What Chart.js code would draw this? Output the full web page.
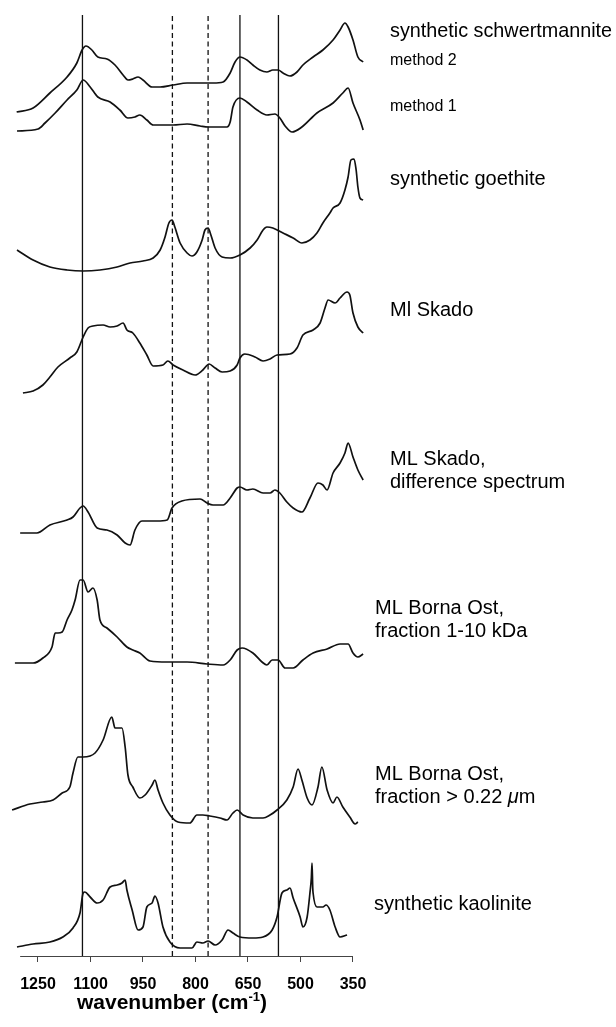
<!DOCTYPE html>
<html>
<head>
<meta charset="utf-8">
<script src="https://cdn.jsdelivr.net/npm/chart.js@4.4.0/dist/chart.umd.min.js"></script>
<style>
html, body { margin: 0; padding: 0; background: #fff; }
#wrap { width: 616px; height: 1027px; }
</style>
</head>
<body>
<div id="wrap"><canvas id="myChart" width="616" height="1027"></canvas></div>
<script>
// [wavenumber cm-1, relative absorbance], top to bottom
var schwertM2 = [[1311,3],[1264,7],[1216,22],[1167,38],[1139,52],[1124,65],[1113,69],[1096,65],[1079,58],[1053,56],[1030,50],[1007,40],[993,35],[979,36],[964,38],[950,35],[924,28],[901,28],[864,30],[824,32],[787,32],[750,32],[721,33],[701,42],[687,53],[673,58],[653,55],[636,50],[616,45],[596,43],[579,45],[564,45],[550,42],[530,39],[510,43],[493,50],[464,58],[436,65],[407,75],[387,85],[373,92],[364,88],[350,75],[336,58],[321,53]];
var schwertM1 = [[1310,4],[1250,6],[1230,12],[1201,22],[1167,35],[1139,45],[1121,55],[1101,48],[1079,38],[1044,33],[1016,25],[993,17],[973,18],[959,20],[939,15],[921,10],[864,10],[824,11],[787,9],[764,8],[710,8],[701,13],[693,28],[673,37],[653,33],[624,25],[596,20],[573,21],[559,17],[544,9],[524,3],[496,8],[453,22],[407,32],[379,42],[364,47],[350,32],[330,15],[321,5]];
var goethite = [[1310,25],[1264,15],[1216,8],[1167,5],[1121,4],[1073,5],[1024,8],[987,12],[950,14],[921,17],[901,25],[887,38],[876,52],[867,55],[859,48],[844,32],[824,22],[810,19],[796,23],[781,35],[773,45],[764,47],[756,40],[744,27],[724,18],[701,17],[673,20],[644,27],[624,35],[607,45],[596,48],[579,47],[550,42],[521,37],[496,32],[473,35],[453,42],[436,52],[416,62],[407,67],[387,72],[373,85],[364,98],[356,115],[347,116],[341,105],[336,88],[330,77],[321,75]];
var mlSkado = [[1293,2],[1264,4],[1236,10],[1216,18],[1193,28],[1159,37],[1139,43],[1121,58],[1107,67],[1093,69],[1064,70],[1044,68],[1024,69],[1007,72],[996,65],[979,62],[959,52],[939,40],[921,29],[893,30],[879,34],[864,30],[836,25],[801,20],[779,25],[761,31],[744,27],[724,23],[701,24],[681,30],[673,37],[659,41],[630,38],[607,34],[587,36],[567,40],[530,41],[510,47],[493,60],[464,65],[444,72],[430,87],[421,95],[401,92],[387,97],[367,103],[359,100],[350,82],[336,68],[321,62]];
var mlSkadoDiff = [[1301,15],[1253,15],[1216,23],[1167,28],[1150,31],[1130,40],[1121,42],[1107,36],[1081,20],[1053,18],[1024,13],[1001,5],[987,3],[973,18],[953,27],[910,27],[881,28],[867,40],[839,47],[787,49],[767,45],[750,43],[721,43],[701,50],[681,60],[673,61],[653,58],[636,59],[607,55],[587,55],[573,58],[559,55],[539,46],[521,40],[496,36],[473,50],[450,65],[436,63],[424,58],[407,75],[387,85],[373,95],[364,105],[350,91],[336,78],[321,68]];
var bornaKda = [[1316,7],[1264,7],[1236,12],[1210,23],[1201,37],[1193,37],[1181,38],[1167,50],[1153,60],[1144,70],[1130,90],[1121,90],[1107,78],[1093,82],[1081,70],[1073,50],[1053,42],[1024,33],[996,23],[979,20],[959,17],[930,9],[881,8],[824,8],[767,6],[721,5],[701,10],[681,20],[667,22],[636,17],[610,8],[596,5],[581,10],[564,10],[544,2],[521,2],[493,10],[464,17],[424,21],[387,26],[364,26],[350,17],[336,13],[321,16]];
var bornaMicron = [[1324,16],[1273,22],[1236,24],[1207,26],[1181,33],[1159,39],[1150,53],[1136,69],[1121,69],[1087,73],[1064,86],[1039,109],[1030,98],[1021,98],[1010,98],[1001,79],[993,51],[979,39],[959,28],[944,31],[924,41],[916,46],[907,36],[893,23],[873,11],[850,4],[816,3],[796,11],[779,11],[759,10],[730,8],[710,6],[693,13],[681,16],[664,11],[636,8],[607,8],[587,11],[567,16],[539,26],[521,39],[507,57],[496,46],[481,28],[467,21],[450,39],[439,59],[424,36],[407,23],[396,29],[379,19],[359,9],[344,2],[336,4]];
var kaolinite = [[1310,3],[1264,6],[1216,8],[1179,13],[1150,22],[1130,37],[1121,57],[1116,58],[1101,53],[1081,47],[1064,50],[1044,63],[1024,65],[1010,67],[1001,70],[996,60],[981,40],[964,20],[950,23],[939,43],[924,47],[916,54],[907,47],[893,23],[873,8],[844,2],[810,2],[796,8],[779,7],[764,9],[744,5],[724,10],[707,20],[693,17],[673,13],[636,12],[607,13],[581,20],[567,33],[553,57],[539,60],[530,62],[521,52],[501,33],[493,23],[481,33],[473,57],[469,72],[467,87],[465,62],[464,57],[453,43],[436,43],[427,45],[416,40],[401,23],[387,13],[367,15]];

var spectra = [schwertM2, schwertM1, goethite, mlSkado, mlSkadoDiff, bornaKda, bornaMicron, kaolinite];
var offsets = [841, 821, 681, 561, 408, 286, 130, 6];   // vertical stacking of the traces
var solidMarks = [1123, 673, 563];
var dashedMarks = [866, 764];
var tickValues = [1250, 1100, 950, 800, 650, 500, 350];
var axisFrom = 1301, axisTo = 350;

// each label is a list of [text, italic] runs
var labels = [
    {runs: [['synthetic schwertmannite']], x: 390, y: 37, size: 19.8},
    {runs: [['method 2']], x: 390, y: 65, size: 16},
    {runs: [['method 1']], x: 390, y: 111, size: 16},
    {runs: [['synthetic goethite']], x: 390, y: 185, size: 20},
    {runs: [['Ml Skado']], x: 390, y: 316, size: 20},
    {runs: [['ML Skado,']], x: 390, y: 465, size: 20},
    {runs: [['difference spectrum']], x: 390, y: 488, size: 20},
    {runs: [['ML Borna Ost,']], x: 375, y: 614, size: 20},
    {runs: [['fraction 1-10 kDa']], x: 375, y: 637, size: 20},
    {runs: [['ML Borna Ost,']], x: 375, y: 780, size: 20},
    {runs: [['fraction > 0.22 '], ['\u03bc', true], ['m']], x: 375, y: 803, size: 20},
    {runs: [['synthetic kaolinite']], x: 374, y: 910, size: 20}
];

var FONT = '"Liberation Sans", Arial, Helvetica, sans-serif';
var YMAX = 941;

var datasets = spectra.map(function(s, i) {
    return {
        data: s.map(function(p) { return {x: p[0], y: p[1] + offsets[i]}; }),
        showLine: true,
        borderColor: '#111',
        borderWidth: 1.7,
        pointRadius: 0,
        cubicInterpolationMode: 'monotone'
    };
});
solidMarks.forEach(function(v) {
    datasets.push({data: [{x: v, y: 0}, {x: v, y: YMAX}], showLine: true, borderColor: '#111', borderWidth: 1.3, pointRadius: 0});
});
dashedMarks.forEach(function(v) {
    datasets.push({data: [{x: v, y: 0}, {x: v, y: YMAX}], showLine: true, borderColor: '#111', borderWidth: 1.3, borderDash: [5, 3.5], pointRadius: 0});
});

var annotate = {
    id: 'annotate',
    afterDraw: function(chart) {
        var ctx = chart.ctx, xs = chart.scales.x, bottom = chart.chartArea.bottom;
        ctx.save();
        ctx.strokeStyle = '#444';
        ctx.lineWidth = 1;
        ctx.beginPath();
        ctx.moveTo(xs.getPixelForValue(axisFrom), bottom + 0.5);
        ctx.lineTo(xs.getPixelForValue(axisTo), bottom + 0.5);
        ctx.stroke();

        ctx.fillStyle = '#000';
        ctx.textBaseline = 'alphabetic';
        ctx.textAlign = 'left';
        labels.forEach(function(l) {
            var x = l.x;
            l.runs.forEach(function(r) {
                ctx.font = (r[1] ? 'italic ' : '') + l.size + 'px ' + FONT;
                ctx.fillText(r[0], x, l.y);
                x += ctx.measureText(r[0]).width;
            });
        });

        // axis title with superscript
        var a = 'wavenumber (cm', sup = '-1', c = ')';
        ctx.font = 'bold 21px ' + FONT;
        var wa = ctx.measureText(a).width, wc = ctx.measureText(c).width;
        ctx.font = 'bold 13px ' + FONT;
        var ws = ctx.measureText(sup).width;
        var x0 = 172 - (wa + ws + wc) / 2, yb = 1009;
        ctx.font = 'bold 21px ' + FONT;
        ctx.fillText(a, x0, yb);
        ctx.fillText(c, x0 + wa + ws, yb);
        ctx.font = 'bold 13px ' + FONT;
        ctx.fillText(sup, x0 + wa, yb - 8);
        ctx.restore();
    }
};

new Chart('myChart', {
    type: 'scatter',
    data: {datasets: datasets},
    options: {
        responsive: false,
        animation: false,
        events: [],
        layout: {padding: {left: 10, right: 246, top: 15, bottom: 31}},
        plugins: {legend: {display: false}, tooltip: {enabled: false}},
        scales: {
            x: {
                type: 'linear',
                reverse: true,
                min: 301.4,
                max: 1330,
                afterBuildTicks: function(s) { s.ticks = tickValues.map(function(v) { return {value: v}; }); },
                afterFit: function(s) { s.height = 40; },
                grid: {drawOnChartArea: false, drawTicks: true, tickLength: 6, color: '#444', lineWidth: 1},
                border: {display: false},
                ticks: {
                    padding: 13,
                    autoSkip: false,
                    maxRotation: 0,
                    color: '#000',
                    font: {family: FONT, size: 16, weight: 'bold'},
                    callback: function(v) { return String(v); }
                }
            },
            y: {display: false, min: 0, max: YMAX}
        }
    },
    plugins: [annotate]
});
</script>
</body>
</html>
